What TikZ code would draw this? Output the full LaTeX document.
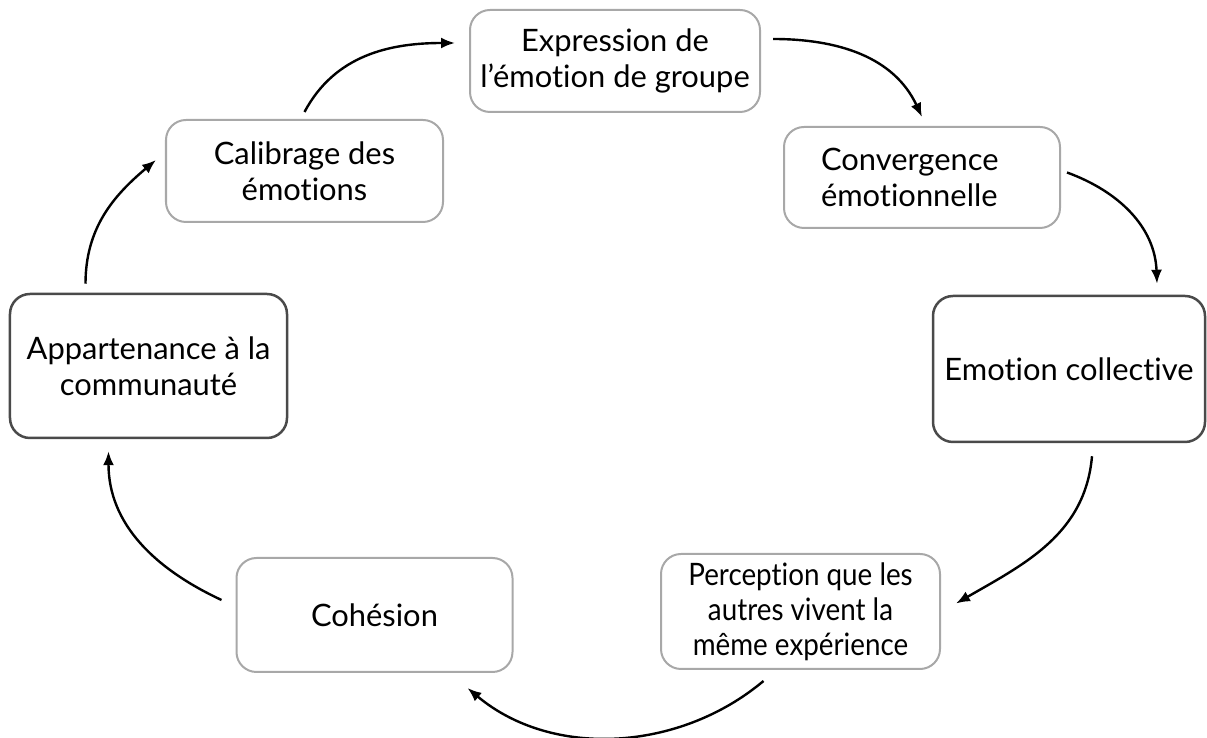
\documentclass[tikz,border=0pt]{standalone}
\usepackage{fontspec}
\setmainfont{Lato}[Ligatures=NoCommon]
\newfontfamily\narrowfont{Lato}[FakeStretch=0.9, Ligatures=NoCommon]
\usetikzlibrary{arrows.meta}
\definecolor{lightframe}{HTML}{A8A8A8}
\definecolor{darkframe}{HTML}{4A4A4A}
\tikzset{
  x=1bp, y=1bp,
  box/.style={draw=lightframe, line width=2bp, rounded corners=20bp, align=center,
    font=\fontsize{31}{36}\selectfont, inner sep=0pt, text=black},
  darkbox/.style={box, draw=darkframe, line width=2.5bp},
  arr/.style={-{Latex[length=14bp,width=11bp]}, line width=2.4bp, black},
}
\begin{document}
\begin{tikzpicture}
\useasboundingbox (0,0) rectangle (1207,738);
\node[box, minimum width=290bp, minimum height=102bp] (expr) at (615,677) {Expression de\\l’émotion de groupe};
\node[box, minimum height=101bp, text width=202bp, inner xsep=37bp, align=left] (conv) at (922,560.5) {Convergence\\émotionnelle};
\node[darkbox, minimum width=272bp, minimum height=146bp] (emo) at (1069,369) {Emotion collective};
\node[box, minimum width=279bp, minimum height=115bp, font=\narrowfont\fontsize{31}{35}\selectfont] (perc) at (800.5,126.5) {Perception que les\\autres vivent la\\même expérience};
\node[box, minimum width=276bp, minimum height=114bp] (coh) at (374.5,123) {Cohésion};
\node[darkbox, minimum width=277bp, minimum height=144bp] (app) at (148.5,372) {Appartenance à la\\communauté};
\node[box, minimum width=277bp, minimum height=102bp] (cal) at (304.5,567) {Calibrage des\\émotions};

\draw[arr] ([yshift=7bp]cal.north) to[out=62, in=180] ([xshift=-14bp, yshift=18bp]expr.west);
\draw[arr] ([xshift=12bp, yshift=22bp]expr.east) to[out=0, in=115] ([yshift=9bp]conv.north);
\draw[arr] ([xshift=6bp, yshift=5bp]conv.east) to[out=-20, in=92] ([xshift=88bp, yshift=11bp]emo.north);
\draw[arr] ([xshift=23bp, yshift=-13bp]emo.south) to[out=-95, in=30] ([xshift=15bp, yshift=8bp]perc.east);
\draw[arr] ([xshift=-37bp, yshift=-11bp]perc.south) to[out=-140, in=-40, looseness=0.95] ([xshift=93bp, yshift=-15bp]coh.south);
\draw[arr] ([xshift=-14bp, yshift=15bp]coh.west) to[out=155, in=-90] ([xshift=-40bp, yshift=-12bp]app.south);
\draw[arr] ([xshift=-63bp, yshift=9bp]app.north) to[out=90, in=-140] ([xshift=-9bp, yshift=11bp]cal.west);
\end{tikzpicture}
\end{document}
